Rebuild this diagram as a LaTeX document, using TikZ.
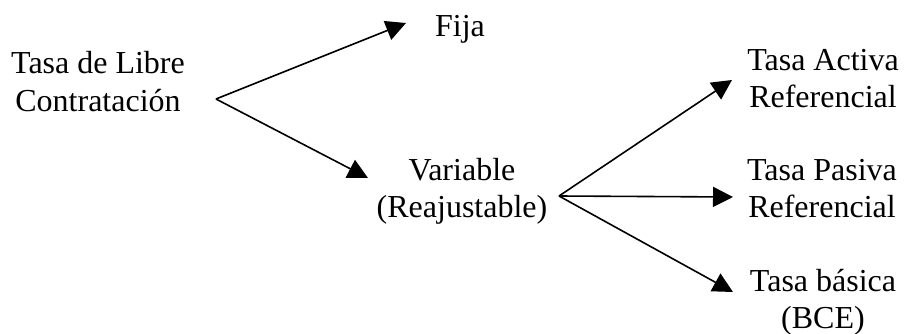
\documentclass[tikz,border=0pt]{standalone}
\usepackage{fontspec}
\setmainfont{Liberation Serif}
\usetikzlibrary{arrows.meta}
\begin{document}
\begin{tikzpicture}[x=1pt,y=-1pt]
\tikzset{
  lbl/.style={font=\fontsize{32}{37}\selectfont, align=center, inner sep=0pt, anchor=base},
  arr/.style={-{Triangle[length=20pt,width=20pt]}, line width=1.6pt}
}
\useasboundingbox (0,0) rectangle (909,334);
\node[lbl] (tlc) at (98,111) {Tasa de Libre\\Contratación};
\node[lbl] (fija) at (460,37) {Fija};
\node[lbl] (var) at (462,217) {Variable\\(Reajustable)};
\node[lbl] (act) at (823,108) {Tasa Activa\\Referencial};
\node[lbl] (pas) at (822,217) {Tasa Pasiva\\Referencial};
\node[lbl] (bas) at (823,328) {Tasa básica\\(BCE)};
\coordinate (v1) at (216,99);
\coordinate (t1) at (406,23);
\coordinate (t2) at (368,178);
\coordinate (v2) at (559,196);
\coordinate (t3) at (732,80);
\coordinate (t4) at (733,197);
\coordinate (t5) at (733,292);
\draw[arr] (v1) -- (t1);
\draw[arr] (v1) -- (t2);
\draw[arr] (v2) -- (t3);
\draw[arr] (v2) -- (t4);
\draw[arr] (v2) -- (t5);
\end{tikzpicture}
\end{document}
